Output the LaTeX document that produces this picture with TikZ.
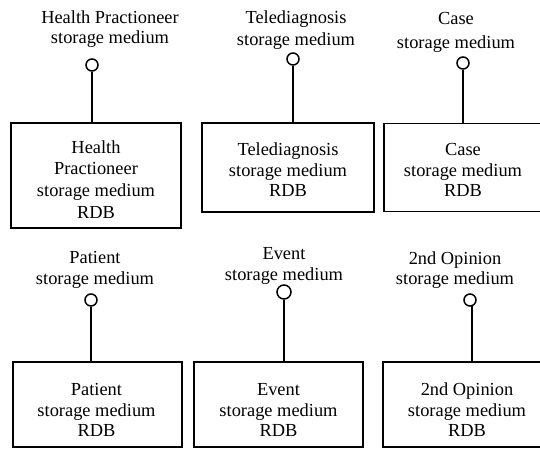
\documentclass[tikz,border=0pt]{standalone}
\usepackage{fontspec}
\setmainfont{Liberation Serif}
\begin{document}
\begin{tikzpicture}[x=1pt,y=-1pt,
  txt/.style={font=\fontsize{18.4}{20.5}\selectfont, align=center, inner sep=0pt},
  dbbox/.style={draw, line width=1.8pt, minimum width=#1, inner sep=0pt},
  lbl/.style={txt, anchor=north},
  port/.style={circle, draw, line width=1.5pt, minimum size=12pt, inner sep=0pt},
  wire/.style={line width=1.8pt}]
\useasboundingbox (0,0) rectangle (540,448);
\clip (0,0) rectangle (540,448);
% row 1
\node[dbbox=170, minimum height=105] (b1) at (96,175.5) {};
\node[dbbox=172, minimum height=89] (b2) at (288,167.5) {};
\node[dbbox=162, minimum height=88] (b3) at (465,167.5) {};
\node[txt, font=\fontsize{18.4}{21.8}\selectfont] (t1) at ([yshift=-4]b1.center) {Health\\Practioneer\\storage medium\\RDB};
\node[txt] (t2) at ([yshift=-2.5]b2.center) {Telediagnosis\\storage medium\\RDB};
\node[txt] (t3) at ([xshift=-2,yshift=-2.5]b3.center) {Case\\storage medium\\RDB};
\node[lbl, font=\fontsize{18.4}{19.5}\selectfont] (l1) at (110,10.7) {Health Practioneer\\storage medium};
\node[lbl, font=\fontsize{18.4}{22}\selectfont] (l2) at (296,10.7) {Telediagnosis\\storage medium};
\node[lbl, font=\fontsize{18.4}{23.5}\selectfont] (l3) at (456,12.5) {Case\\storage medium};
\node[port] (c1) at (92,65) {};
\node[port] (c2) at (293,59) {};
\node[port] (c3) at (463,63) {};
% row 2
\node[dbbox=169, minimum height=85] (b4) at (97.5,404.5) {};
\node[dbbox=169, minimum height=85] (b5) at (278.5,404.5) {};
\node[dbbox=168, minimum height=85] (b6) at (467,404.5) {};
\node[txt] (t4) at ([xshift=-1,yshift=-5.5]b4.center) {Patient\\storage medium\\RDB};
\node[txt] (t5) at ([yshift=-5.5]b5.center) {Event\\storage medium\\RDB};
\node[txt] (t6) at ([yshift=-5.5]b6.center) {2nd Opinion\\storage medium\\RDB};
\node[lbl] (l4) at (95,251.5) {Patient\\storage medium};
\node[lbl] (l5) at (284,247.5) {Event\\storage medium};
\node[lbl] (l6) at (455,251.5) {2nd Opinion\\storage medium};
\node[port] (c4) at (91,300) {};
\node[port, minimum size=14pt] (c5) at (284,292) {};
\node[port] (c6) at (470,300) {};
% connectors
\draw[wire] (c1.south) -- (c1.south |- b1.north);
\draw[wire] (c2.south) -- (c2.south |- b2.north);
\draw[wire] (c3.south) -- (c3.south |- b3.north);
\draw[wire] (c4.south) -- (c4.south |- b4.north);
\draw[wire] (c5.south) -- (c5.south |- b5.north);
\draw[wire] (c6.-70) -- (c6.-70 |- b6.north);
\end{tikzpicture}
\end{document}
